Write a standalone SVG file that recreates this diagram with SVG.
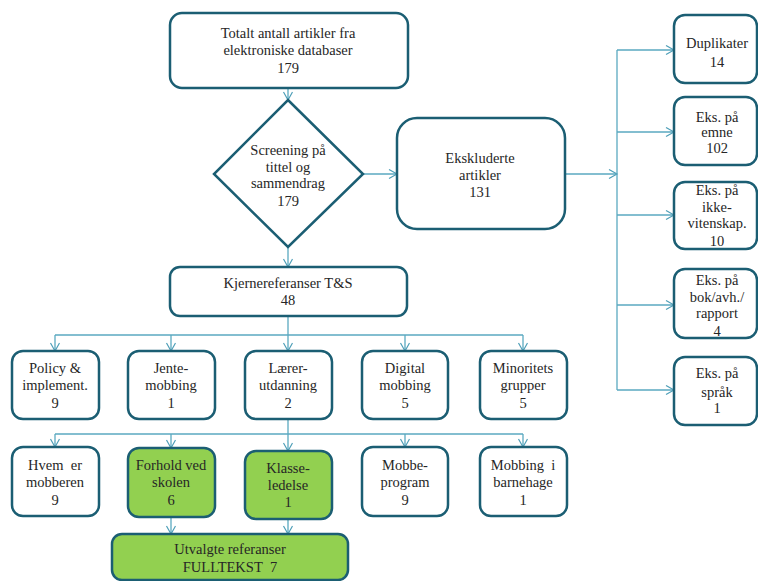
<svg xmlns="http://www.w3.org/2000/svg" width="758" height="581" viewBox="0 0 758 581">
<defs>
<marker id="arr" markerWidth="12" markerHeight="12" refX="9" refY="5" orient="auto" markerUnits="userSpaceOnUse">
<polyline points="1,0.5 9,5 1,9.5" fill="none" stroke="#4f9fb8" stroke-width="1.2"/>
</marker>
<style>
.box{fill:#ffffff;stroke:#1b5e73;stroke-width:2.5}
.green{fill:#92d050;stroke:#1b5e73;stroke-width:2.5}
.c{fill:none;stroke:#5aa9c0;stroke-width:1.3}
text{font-family:'Liberation Serif', 'Times New Roman', serif;font-size:14.5px;fill:#262626;text-anchor:middle}
</style>
</defs>
<rect width="758" height="581" fill="#ffffff"/>
<g id="connectors">
<line class="c" x1="288" y1="88" x2="288" y2="100" marker-end="url(#arr)"/>
<line class="c" x1="363" y1="174" x2="397" y2="174" marker-end="url(#arr)"/>
<line class="c" x1="288" y1="247" x2="288" y2="267" marker-end="url(#arr)"/>
<line class="c" x1="565" y1="174" x2="617" y2="174" marker-end="url(#arr)"/>
<line class="c" x1="617" y1="50" x2="617" y2="390"/>
<line class="c" x1="617" y1="50" x2="674" y2="50" marker-end="url(#arr)"/>
<line class="c" x1="617" y1="132" x2="674" y2="132" marker-end="url(#arr)"/>
<line class="c" x1="617" y1="215" x2="674" y2="215" marker-end="url(#arr)"/>
<line class="c" x1="617" y1="305" x2="674" y2="305" marker-end="url(#arr)"/>
<line class="c" x1="617" y1="390" x2="674" y2="390" marker-end="url(#arr)"/>
<line class="c" x1="288" y1="316" x2="288" y2="351" marker-end="url(#arr)"/>
<line class="c" x1="55" y1="335" x2="523" y2="335"/>
<line class="c" x1="55" y1="335" x2="55" y2="351" marker-end="url(#arr)"/>
<line class="c" x1="171" y1="335" x2="171" y2="351" marker-end="url(#arr)"/>
<line class="c" x1="405" y1="335" x2="405" y2="351" marker-end="url(#arr)"/>
<line class="c" x1="523" y1="335" x2="523" y2="351" marker-end="url(#arr)"/>
<line class="c" x1="288" y1="419" x2="288" y2="451" marker-end="url(#arr)"/>
<line class="c" x1="55" y1="434" x2="523" y2="434"/>
<line class="c" x1="55" y1="434" x2="55" y2="447" marker-end="url(#arr)"/>
<line class="c" x1="171" y1="434" x2="171" y2="448" marker-end="url(#arr)"/>
<line class="c" x1="405" y1="434" x2="405" y2="447" marker-end="url(#arr)"/>
<line class="c" x1="523" y1="434" x2="523" y2="447" marker-end="url(#arr)"/>
<line class="c" x1="171" y1="517" x2="171" y2="534" marker-end="url(#arr)"/>
<line class="c" x1="288" y1="519" x2="288" y2="534" marker-end="url(#arr)"/>
</g>
<g id="total">
<rect class="box" x="170" y="13" width="238" height="75" rx="12"/>
<text x="288" y="38">Totalt antall artikler fra</text>
<text x="288" y="55">elektroniske databaser</text>
<text x="288" y="73">179</text>
</g>
<g id="screening">
<polygon class="box" points="288,100 363,174 288,247 214,174"/>
<text x="288" y="155">Screening på</text>
<text x="288" y="172">tittel og</text>
<text x="288" y="188">sammendrag</text>
<text x="288" y="206">179</text>
</g>
<g id="ekskluderte">
<rect class="box" x="397" y="118" width="168" height="111" rx="20"/>
<text x="480" y="163">Ekskluderte</text>
<text x="480" y="180">artikler</text>
<text x="480" y="197">131</text>
</g>
<g id="duplikater">
<rect class="box" x="674" y="15" width="83" height="68" rx="11"/>
<text x="717" y="48">Duplikater</text>
<text x="717" y="67">14</text>
</g>
<g id="emne">
<rect class="box" x="674" y="97" width="83" height="68" rx="11"/>
<text x="717" y="122">Eks. på</text>
<text x="717" y="137">emne</text>
<text x="717" y="153">102</text>
</g>
<g id="ikkevit">
<rect class="box" x="674" y="182" width="83" height="67" rx="11"/>
<text x="717" y="195">Eks. på</text>
<text x="717" y="212">ikke-</text>
<text x="717" y="228">vitenskap.</text>
<text x="717" y="246">10</text>
</g>
<g id="bok">
<rect class="box" x="674" y="269" width="83" height="69" rx="11"/>
<text x="717" y="285">Eks. på</text>
<text x="717" y="302">bok/avh./</text>
<text x="717" y="318">rapport</text>
<text x="717" y="336">4</text>
</g>
<g id="sprak">
<rect class="box" x="674" y="357" width="83" height="68" rx="11"/>
<text x="717" y="378">Eks. på</text>
<text x="717" y="397">språk</text>
<text x="717" y="413">1</text>
</g>
<g id="kjerne">
<rect class="box" x="170" y="267" width="237" height="49" rx="10"/>
<text x="288" y="288">Kjernereferanser T&amp;S</text>
<text x="288" y="305">48</text>
</g>
<g id="policy">
<rect class="box" x="12" y="351" width="87" height="68" rx="11"/>
<text x="55" y="373">Policy &amp;</text>
<text x="55" y="390">implement.</text>
<text x="55" y="408">9</text>
</g>
<g id="jente">
<rect class="box" x="128" y="351" width="87" height="68" rx="11"/>
<text x="171" y="373">Jente-</text>
<text x="171" y="390">mobbing</text>
<text x="171" y="408">1</text>
</g>
<g id="laerer">
<rect class="box" x="245" y="351" width="87" height="68" rx="11"/>
<text x="288" y="373">Lærer-</text>
<text x="288" y="390">utdanning</text>
<text x="288" y="408">2</text>
</g>
<g id="digital">
<rect class="box" x="362" y="351" width="86" height="68" rx="11"/>
<text x="405" y="373">Digital</text>
<text x="405" y="390">mobbing</text>
<text x="405" y="408">5</text>
</g>
<g id="minoritet">
<rect class="box" x="480" y="351" width="87" height="68" rx="11"/>
<text x="523" y="373">Minoritets</text>
<text x="523" y="390">grupper</text>
<text x="523" y="408">5</text>
</g>
<g id="hvem">
<rect class="box" x="12" y="447" width="87" height="69" rx="11"/>
<text x="55" y="470">Hvem&#160; er</text>
<text x="55" y="487">mobberen</text>
<text x="55" y="505">9</text>
</g>
<g id="forhold">
<rect class="green" x="128" y="448" width="87" height="69" rx="11"/>
<text x="171" y="470">Forhold ved</text>
<text x="171" y="487">skolen</text>
<text x="171" y="505">6</text>
</g>
<g id="klasse">
<rect class="green" x="245" y="451" width="87" height="68" rx="11"/>
<text x="288" y="473">Klasse-</text>
<text x="288" y="490">ledelse</text>
<text x="288" y="507">1</text>
</g>
<g id="mobbeprogram">
<rect class="box" x="362" y="447" width="86" height="69" rx="11"/>
<text x="405" y="470">Mobbe-</text>
<text x="405" y="487">program</text>
<text x="405" y="505">9</text>
</g>
<g id="barnehage">
<rect class="box" x="480" y="447" width="87" height="69" rx="11"/>
<text x="523" y="470">Mobbing&#160; i</text>
<text x="523" y="487">barnehage</text>
<text x="523" y="505">1</text>
</g>
<g id="utvalgte">
<rect class="green" x="112" y="534" width="236" height="46" rx="10"/>
<text x="230" y="554">Utvalgte referanser</text>
<text x="230" y="572">FULLTEKST&#160; 7</text>
</g>
</svg>
